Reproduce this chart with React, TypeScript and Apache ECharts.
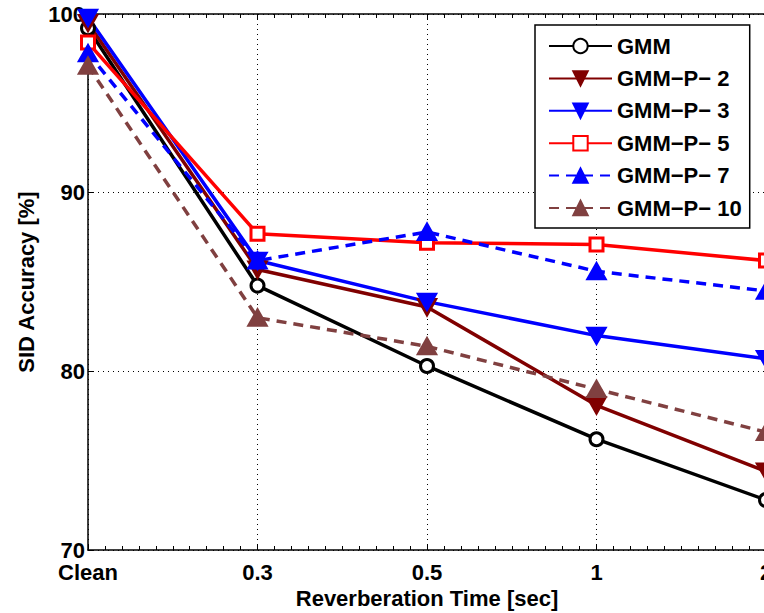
import React, { useEffect, useRef } from "react";
import * as echarts from "echarts";

const categories = ["Clean", "0.3", "0.5", "1", "2"];
const gmm = [99.2, 84.8, 80.3, 76.2, 72.8];
const gmmP2 = [99.5, 85.7, 83.6, 78.1, 74.4];
const gmmP3 = [99.8, 86.2, 83.9, 82.0, 80.7];
const gmmP5 = [98.4, 87.7, 87.2, 87.1, 86.2];
const gmmP7 = [97.8, 86.2, 87.8, 85.6, 84.5];
const gmmP10 = [97.1, 83.0, 81.4, 79.0, 76.6];
const seriesNames = ["GMM", "GMM−P− 2", "GMM−P− 3", "GMM−P− 5", "GMM−P− 7", "GMM−P− 10"];

const FONT = "'Liberation Sans', Arial, sans-serif";
const DOWN_TRI = "path://M0,0 L20,0 L10,18 Z";

export default function App() {
  const ref = useRef<HTMLDivElement>(null);
  useEffect(() => {
    if (!ref.current) return;
    const chart = echarts.init(ref.current, null, { renderer: "svg" });
    const defs = [
      { data: gmm, color: "#000000", dashed: false, symbol: "circle", size: 13, fill: "#ffffff" },
      { data: gmmP2, color: "#800000", dashed: false, symbol: DOWN_TRI, size: [17, 15], fill: "#800000" },
      { data: gmmP3, color: "#0000ff", dashed: false, symbol: DOWN_TRI, size: [17, 15], fill: "#0000ff" },
      { data: gmmP5, color: "#ff0000", dashed: false, symbol: "rect", size: 13, fill: "#ffffff" },
      { data: gmmP7, color: "#0000ff", dashed: true, symbol: "triangle", size: [17, 15], fill: "#0000ff" },
      { data: gmmP10, color: "#804040", dashed: true, symbol: "triangle", size: [17, 15], fill: "#804040" },
    ];
    const series = defs.map((d, i) => ({
      name: seriesNames[i],
      type: "line",
      data: d.data.map((v, j) => [j, v]),
      symbol: d.symbol,
      symbolSize: d.size,
      showAllSymbol: true,
      clip: false,
      lineStyle: { color: d.color, width: 3.5, type: d.dashed ? [10, 7] : "solid" },
      itemStyle: { color: d.fill, borderColor: d.color, borderWidth: 3 },
      color: d.color,
    }));
    const axisText = { fontFamily: FONT, fontWeight: "bold", fontSize: 22, color: "#000" };
    chart.setOption({
      animation: false,
      backgroundColor: "#ffffff",
      grid: {
        left: 88,
        top: 14,
        width: 678,
        height: 536,
        containLabel: false,
        outerBoundsMode: "none",
      },
      legend: {
        orient: "vertical",
        left: 535,
        top: 25,
        backgroundColor: "#ffffff",
        borderColor: "#000000",
        borderWidth: 1.5,
        borderRadius: 0,
        padding: [10, 8, 9, 13],
        itemWidth: 63,
        itemHeight: 18,
        itemGap: 10.4,
        textStyle: { ...axisText, lineHeight: 18 },
        data: seriesNames,
      },
      xAxis: [
        {
          type: "value",
          min: 0,
          max: 4,
          interval: 1,
          name: "Reverberation Time [sec]",
          nameLocation: "middle",
          nameGap: 35,
          nameTextStyle: axisText,
          axisLine: { show: true, lineStyle: { color: "#000", width: 1.5 } },
          axisTick: { show: true, inside: true, length: 6, lineStyle: { color: "#000" } },
          minorTick: { show: true, splitNumber: 10, length: 4, lineStyle: { color: "#000" } },
          axisLabel: {
            ...axisText,
            margin: 13,
            lineHeight: 18,
            showMaxLabel: true,
            showMinLabel: true,
            hideOverlap: false,
            formatter: (v: number) => categories[Math.round(v)] ?? "",
          },
          splitLine: { show: true, lineStyle: { color: "#000", type: [1, 4], width: 1 } },
        },
        {
          type: "value",
          position: "top",
          min: 0,
          max: 4,
          interval: 1,
          axisLine: { show: true, lineStyle: { color: "#000", width: 1.5 } },
          axisTick: { show: true, inside: true, length: 6, lineStyle: { color: "#000" } },
          minorTick: { show: true, splitNumber: 10, length: 4, lineStyle: { color: "#000" } },
          axisLabel: { show: false },
          splitLine: { show: false },
        },
      ],
      yAxis: {
        type: "value",
        min: 70,
        max: 100,
        interval: 10,
        name: "SID Accuracy [%]",
        nameLocation: "middle",
        nameGap: 50,
        nameTextStyle: axisText,
        axisLine: { show: true, lineStyle: { color: "#000", width: 1.5 } },
        axisTick: { show: true, inside: true, length: 6, lineStyle: { color: "#000" } },
        axisLabel: { ...axisText, margin: 3, lineHeight: 16, padding: [0, 0, 4, 0] },
        splitLine: { show: true, lineStyle: { color: "#000", type: [1, 4], width: 1 } },
      },
      series,
    });
    return () => chart.dispose();
  }, []);
  return <div ref={ref} style={{ width: 764, height: 613, position: "absolute", left: 0, top: 0 }} />;
}
